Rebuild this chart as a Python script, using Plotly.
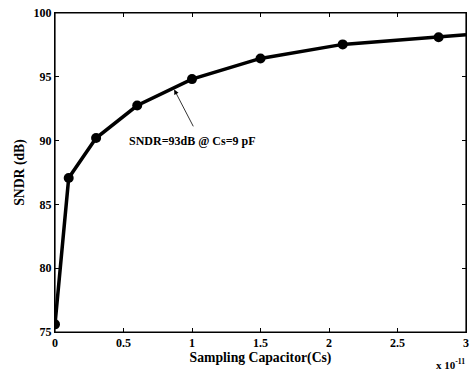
import plotly.graph_objects as go

cs = [0.0, 0.1, 0.3, 0.6, 1.0, 1.5, 2.1, 2.8, 3.0]   # x 1e-11 F
sndr = [75.6, 87.07, 90.2, 92.75, 94.82, 96.44, 97.54, 98.1, 98.3]
marker_sizes = [10, 10, 10, 10, 10, 10, 10, 10, 0]
x_ticks = [0, 0.5, 1, 1.5, 2, 2.5, 3]
x_tick_text = ["0", "0.5", "1", "1.5", "2", "2.5", "3"]
y_ticks = [75, 80, 85, 90, 95, 100]
x_range = [0, 3]
y_range = [75, 100]

FF = "Liberation Serif"

fig = go.Figure()
fig.add_trace(go.Scatter(
    x=cs, y=sndr, mode="lines",
    line=dict(color="black", width=3.5),
    showlegend=False, hoverinfo="skip",
))
fig.add_trace(go.Scatter(
    x=cs, y=sndr, mode="markers",
    marker=dict(color="#000000", size=marker_sizes, opacity=1, line=dict(width=0)),
    showlegend=False,
))
fig.add_trace(go.Scatter(x=[None], y=[None], xaxis="x2", yaxis="y2", showlegend=False))

axis_common = dict(showline=True, linecolor="black", linewidth=1,
                   ticks="inside", ticklen=4, tickcolor="black", showgrid=False,
                   zeroline=False, tickfont=dict(family=FF, size=12, color="black", weight="bold"))

fig.update_layout(
    xaxis=dict(range=x_range, tickvals=x_ticks, ticktext=x_tick_text,
               title=dict(text="Sampling Capacitor(Cs)", font=dict(family=FF, size=13.7, color="black", weight="bold"), standoff=0),
               **axis_common),
    yaxis=dict(range=y_range, tickvals=y_ticks,
               title=dict(text="SNDR (dB)", font=dict(family=FF, size=13.7, color="black", weight="bold"), standoff=5),
               **axis_common),
    xaxis2=dict(range=x_range, tickvals=x_ticks, overlaying="x", side="top", anchor="y",
                showticklabels=False, **axis_common),
    yaxis2=dict(range=y_range, tickvals=y_ticks, overlaying="y", side="right", anchor="x",
                showticklabels=False, **axis_common),
)
fig.add_shape(type="rect", xref="paper", yref="paper", x0=0, x1=1, y0=0, y1=1,
              line=dict(color="black", width=1.2), layer="above")

fig.add_annotation(x=0.87, y=94.0, ax=1.015, ay=91.0, xref="x", yref="y", axref="x", ayref="y",
                   text="", showarrow=True, arrowhead=2, arrowsize=1.2, arrowwidth=0.8, arrowcolor="black")
fig.add_annotation(x=1.0, y=90.0, xref="x", yref="y", text="SNDR=93dB @ Cs=9 pF",
                   showarrow=False, font=dict(family=FF, size=12, color="black", weight="bold"))
fig.add_annotation(x=1.0, y=0, xref="paper", yref="paper", xanchor="right", yanchor="middle", yshift=-32, xshift=1,
                   text="x 10<sup>-11</sup>", showarrow=False,
                   font=dict(family=FF, size=11, color="black", weight="bold"))

fig.update_layout(width=475, height=371, margin=dict(l=55, r=6, t=13, b=39),
                  plot_bgcolor="white", paper_bgcolor="white",
                  font=dict(family=FF, size=12, color="black"))
fig.write_html("out.html", config={"displayModeBar": False},
               post_script="document.body.style.margin='0';document.body.style.overflow='hidden';")
